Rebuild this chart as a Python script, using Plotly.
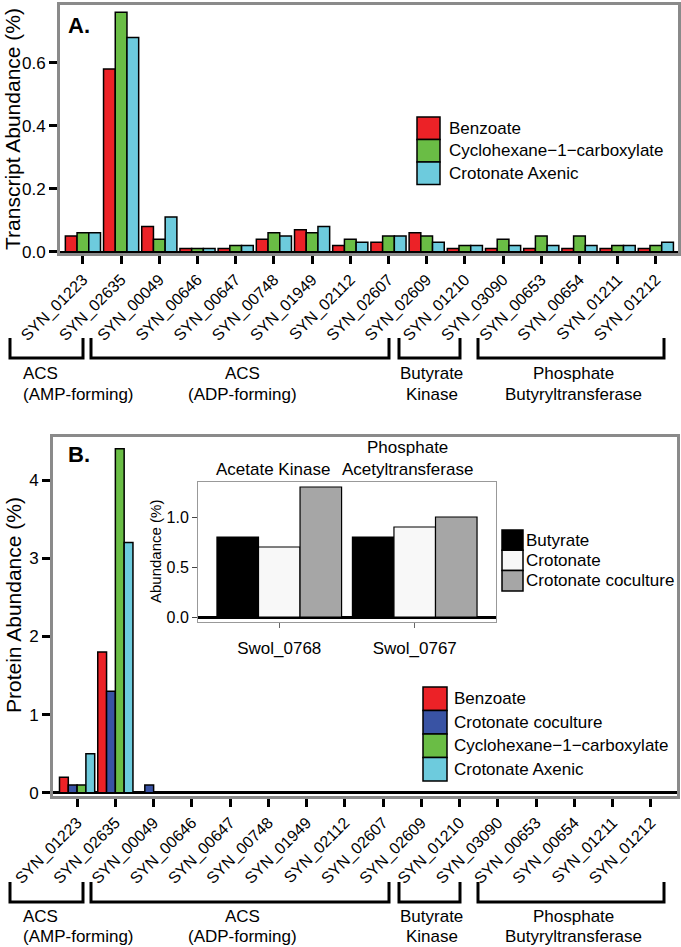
import plotly.graph_objects as go

# genes on the x axis (same for both panels)
genes = ["SYN_01223", "SYN_02635", "SYN_00049", "SYN_00646", "SYN_00647",
         "SYN_00748", "SYN_01949", "SYN_02112", "SYN_02607", "SYN_02609",
         "SYN_01210", "SYN_03090", "SYN_00653", "SYN_00654", "SYN_01211",
         "SYN_01212"]

# A. transcript abundance (%)
tr_benzoate = [0.05, 0.58, 0.08, 0.01, 0.01, 0.04, 0.07, 0.02, 0.03, 0.06,
               0.01, 0.01, 0.01, 0.01, 0.01, 0.01]
tr_cyclohex = [0.06, 0.76, 0.04, 0.01, 0.02, 0.06, 0.06, 0.04, 0.05, 0.05,
               0.02, 0.04, 0.05, 0.05, 0.02, 0.02]
tr_axenic = [0.06, 0.68, 0.11, 0.01, 0.02, 0.05, 0.08, 0.03, 0.05, 0.03,
             0.02, 0.02, 0.02, 0.02, 0.02, 0.03]

# B. protein abundance (%)
pr_benzoate = [0.2, 1.8, 0, 0, 0, 0, 0, 0, 0, 0, 0, 0, 0, 0, 0, 0]
pr_coculture = [0.1, 1.3, 0.1, 0, 0, 0, 0, 0, 0, 0, 0, 0, 0, 0, 0, 0]
pr_cyclohex = [0.1, 4.4, 0, 0, 0, 0, 0, 0, 0, 0, 0, 0, 0, 0, 0, 0]
pr_axenic = [0.5, 3.2, 0, 0, 0, 0, 0, 0, 0, 0, 0, 0, 0, 0, 0, 0]

# inset
inset_genes = ["Swol_0768", "Swol_0767"]
inset_titles = ["Acetate Kinase", "Phosphate<br>Acetyltransferase"]
in_butyrate = [0.8, 0.8]
in_crotonate = [0.7, 0.9]
in_coculture = [1.3, 1.0]

# gene families: (line 1, line 2, bracket left px, bracket right px, align)
groups = [("ACS", "(AMP-forming)", 10, 83, "left"),
          ("ACS", "(ADP-forming)", 91, 389, "center"),
          ("Butyrate", "Kinase", 399, 460, "center"),
          ("Phosphate", "Butyryltransferase", 478, 664, "center")]

RED = "#ec2227"
GREEN = "#6abd45"
CYAN = "#6dcbdd"
BLUE = "#3953a4"

W, H = 681, 947
FONT = "Liberation Sans, Arial, sans-serif"


def X(px):
  return px / W


def Y(py):
  return 1 - py / H


def bar(x, y, name, color, xa, ya, lw=1.5):
  return go.Bar(x=x, y=y, name=name, xaxis=xa, yaxis=ya,
                marker=dict(color=color, line=dict(color="black", width=lw)),
                showlegend=False)


fig = go.Figure()
for y, n, c in [(tr_benzoate, "Benzoate", RED),
                (tr_cyclohex, "Cyclohexane−1−carboxylate", GREEN),
                (tr_axenic, "Crotonate Axenic", CYAN)]:
  fig.add_trace(bar(genes, y, n, c, "x", "y"))
for y, n, c in [(pr_benzoate, "Benzoate", RED),
                (pr_coculture, "Crotonate coculture", BLUE),
                (pr_cyclohex, "Cyclohexane−1−carboxylate", GREEN),
                (pr_axenic, "Crotonate Axenic", CYAN)]:
  fig.add_trace(bar(genes, y, n, c, "x2", "y2"))
for y, n, c in [(in_butyrate, "Butyrate", "#000000"),
                (in_crotonate, "Crotonate", "#f8f8f8"),
                (in_coculture, "Crotonate coculture", "#a6a6a6")]:
  fig.add_trace(bar(inset_genes, y, n, c, "x3", "y3", lw=1.2))

tickfont = dict(family=FONT, size=17, color="black")
frame = dict(showline=True, mirror=True, linecolor="#8a8a8a", linewidth=3,
             showgrid=False, layer="below traces", automargin=False)
xcat = dict(frame, ticks="outside", ticklen=8, tickwidth=2.5, tickcolor="black",
            tickangle=-45, tickfont=dict(tickfont, size=16), type="category")

fig.update_layout(
  width=W, height=H, margin=dict(l=0, r=0, t=0, b=0, autoexpand=False),
  paper_bgcolor="white", plot_bgcolor="white",
  font=dict(family=FONT, size=17, color="black"),
  barmode="group", bargap=0.08, bargroupgap=0,
  xaxis=dict(xcat, domain=[X(60), X(678)], range=[-0.6, 15.58], anchor="y"),
  yaxis=dict(frame, domain=[Y(253), Y(5)], range=[-0.004, 0.783], anchor="x",
             tickvals=[0, 0.2, 0.4, 0.6], tickformat=".1f", ticks="outside",
             ticklen=8, tickwidth=2.5, tickcolor="black", tickfont=tickfont,
             zeroline=True, zerolinecolor="black", zerolinewidth=2),
  xaxis2=dict(xcat, domain=[X(53), X(677)], range=[-0.63, 15.68], anchor="y2"),
  yaxis2=dict(frame, domain=[Y(796), Y(437)], range=[-0.04, 4.55], anchor="x2",
              tickvals=[0, 1, 2, 3, 4], ticks="outside", ticklen=8,
              tickwidth=2.5, tickcolor="black", tickfont=tickfont,
              zeroline=True, zerolinecolor="black", zerolinewidth=3),
  xaxis3=dict(showline=True, mirror=True, linecolor="#999999", linewidth=1,
              showgrid=False, type="category", domain=[X(198), X(496)],
              range=[-0.6, 1.6], anchor="y3", ticks="outside", ticklen=5,
              tickcolor="#666666", tickwidth=1, tickfont=tickfont,
              ticklabelstandoff=6, automargin=False),
  yaxis3=dict(showline=True, mirror=True, linecolor="#999999", linewidth=1,
              showgrid=False, domain=[Y(622), Y(482)], range=[-0.05, 1.35],
              anchor="x3", tickvals=[0, 0.5, 1.0], tickformat=".1f",
              ticks="outside", ticklen=5, tickcolor="#444444", tickwidth=1,
              tickfont=dict(family=FONT, size=16, color="black"),
              zeroline=True, zerolinecolor="black", zerolinewidth=2.5,
              automargin=False),
)

ann = []
shapes = []

# panel letters and y titles
ann.append(dict(text="<b>A.</b>", x=X(66), y=Y(25), xanchor="left", yanchor="middle",
                font=dict(size=22)))
ann.append(dict(text="<b>B.</b>", x=X(66), y=Y(455), xanchor="left", yanchor="middle",
                font=dict(size=22)))
ann.append(dict(text="Transcript Abundance (%)", x=X(13), y=Y(129), textangle=-90,
                xanchor="center", yanchor="middle", font=dict(size=21)))
ann.append(dict(text="Protein Abundance (%)", x=X(13), y=Y(605), textangle=-90,
                xanchor="center", yanchor="middle", font=dict(size=21)))
ann.append(dict(text="Abundance (%)", x=X(155), y=Y(552), textangle=-90,
                xanchor="center", yanchor="middle", font=dict(size=15)))

# inset titles
for i, t in enumerate(inset_titles):
  ann.append(dict(text=t, x=i - 0.05, xref="x3", y=Y(481), yanchor="bottom",
                  xanchor="center", font=dict(size=17)))


def legend(items, bx0, bx1, tx, top, row, size=17):
  for i, (name, color) in enumerate(items):
    y0 = top + i * row
    shapes.append(dict(type="rect", xref="paper", yref="paper",
                       x0=X(bx0), x1=X(bx1), y0=Y(y0), y1=Y(y0 + row),
                       fillcolor=color, line=dict(color="black", width=1.5)))
    ann.append(dict(text=name, x=X(tx), y=Y(y0 + row / 2), xanchor="left",
                    yanchor="middle", font=dict(size=size), borderpad=0))


legend([("Benzoate", RED), ("Cyclohexane−1−carboxylate", GREEN),
        ("Crotonate Axenic", CYAN)], 417, 440, 448, 117, 22.5)
legend([("Benzoate", RED), ("Crotonate coculture", BLUE),
        ("Cyclohexane−1−carboxylate", GREEN), ("Crotonate Axenic", CYAN)],
       423, 447, 453, 687, 23.5)
legend([("Butyrate", "#000000"), ("Crotonate", "#f8f8f8"),
        ("Crotonate coculture", "#a6a6a6")], 502, 523, 525, 530, 20.3, 17)

# gene family brackets under both panels
for top, l1, l2 in ((338, 373, 394), (882, 916, 936)):
  for t1, t2, x0, x1, align in groups:
    shapes.append(dict(type="path", xref="paper", yref="paper",
                       path="M %f,%f L %f,%f L %f,%f L %f,%f" % (
                         X(x0), Y(top), X(x0), Y(top + 20),
                         X(x1), Y(top + 20), X(x1), Y(top)),
                       line=dict(color="black", width=3)))
    for t, ly in ((t1, l1), (t2, l2)):
      if align == "left":
        ann.append(dict(text=t, x=X(22), y=Y(ly), xanchor="left",
                        yanchor="middle", font=dict(size=17), borderpad=0))
      else:
        ann.append(dict(text=t, x=X((x0 + x1) / 2 + 2), y=Y(ly),
                        xanchor="center", yanchor="middle",
                        font=dict(size=17), borderpad=0))

for a in ann:
  a.setdefault("xref", "paper")
  a.setdefault("yref", "paper")
  a["showarrow"] = False
fig.update_layout(annotations=ann, shapes=shapes)

# the page body has a default 8px margin; drop it so the figure fills the window
fig.write_html("out.html", config={"displayModeBar": False},
               post_script="document.body.style.margin='0px';")
